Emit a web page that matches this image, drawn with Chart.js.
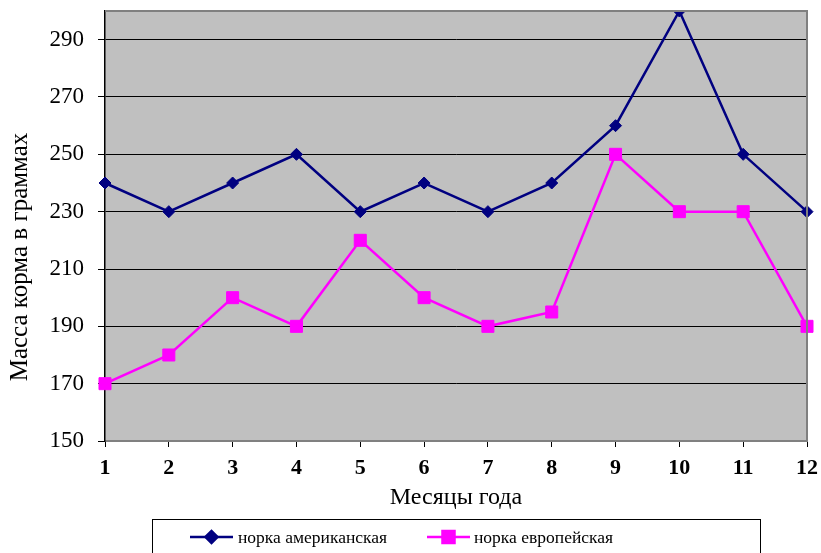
<!DOCTYPE html>
<html>
<head>
<meta charset="utf-8">
<script src="https://cdn.jsdelivr.net/npm/chart.js@4/dist/chart.umd.min.js"></script>
<style>
    html, body { margin: 0; padding: 0; background: #ffffff; }
    #wrap { width: 821px; height: 553px; position: relative; }
</style>
</head>
<body>
<div id="wrap"><canvas id="minkChart"></canvas></div>
<script>
/* ==========================================================
   Mink feed chart
========================================================== */

const months = ["1", "2", "3", "4", "5", "6", "7", "8", "9", "10", "11", "12"];
const americanMink = [240, 230, 240, 250, 230, 240, 230, 240, 260, 300, 250, 230];
const europeanMink = [170, 180, 200, 190, 220, 200, 190, 195, 250, 230, 230, 190];
const yTicks = [150, 170, 190, 210, 230, 250, 270, 290];
const seriesNames = ["норка американская", "норка европейская"];
const yTitle = "Масса корма в граммах";
const xTitle = "Месяцы года";

const SERIF = "'Liberation Serif', 'Times New Roman', serif";

/* =====================================================
   PLUGINS
===================================================== */

// grey plot background + grey top/right frame
const plotFrame = {
    id: "plotFrame",
    beforeDraw(chart) {
        const { ctx, chartArea: a } = chart;
        ctx.save();
        ctx.fillStyle = "#c0c0c0";
        ctx.fillRect(a.left, a.top, a.right - a.left, a.bottom - a.top);
        ctx.restore();
    },
    afterDatasetsDraw(chart) {
        const { ctx, chartArea: a } = chart;
        ctx.save();
        ctx.strokeStyle = "#808080";
        ctx.lineWidth = 2;
        ctx.beginPath();
        ctx.moveTo(a.left, a.top);
        ctx.lineTo(a.right, a.top);
        ctx.lineTo(a.right, a.bottom);
        ctx.stroke();
        ctx.restore();
    }
};

// rotated y title, placed like the original
const yTitlePlugin = {
    id: "yTitlePlugin",
    afterDraw(chart) {
        const { ctx } = chart;
        ctx.save();
        ctx.translate(27, 257);
        ctx.rotate(-Math.PI / 2);
        ctx.font = "25px " + SERIF;
        ctx.fillStyle = "#000";
        ctx.textAlign = "center";
        ctx.textBaseline = "alphabetic";
        ctx.fillText(yTitle, 0, 0);
        ctx.restore();
    }
};

// boxed legend under the axis title
const boxLegend = {
    id: "boxLegend",
    afterDraw(chart) {
        const { ctx } = chart;
        const items = [
            { x0: 190, x1: 233, tx: 238 },
            { x0: 427, x1: 470, tx: 474 }
        ];
        const y = 537;

        ctx.save();
        ctx.strokeStyle = "#000";
        ctx.lineWidth = 1;
        ctx.strokeRect(152.5, 519.5, 608, 50);

        chart.data.datasets.forEach((ds, i) => {
            const it = items[i];
            ctx.strokeStyle = ds.borderColor;
            ctx.lineWidth = 2.5;
            ctx.beginPath();
            ctx.moveTo(it.x0, y);
            ctx.lineTo(it.x1, y);
            ctx.stroke();

            Chart.helpers.drawPoint(ctx, {
                pointStyle: ds.pointStyle,
                radius: ds.pointRadius,
                borderWidth: 1
            }, (it.x0 + it.x1) / 2, y);
            ctx.fillStyle = ds.borderColor;
            ctx.fill();

            ctx.fillStyle = "#000";
            ctx.font = "17.5px " + SERIF;
            ctx.textAlign = "left";
            ctx.textBaseline = "middle";
            ctx.fillText(ds.label, it.tx, y + 1);
        });
        ctx.restore();
    }
};

/* =====================================================
   CHART
===================================================== */

const ctx = document.getElementById("minkChart").getContext("2d");

new Chart(ctx, {
    type: "line",
    data: {
        labels: months,
        datasets: [{
            label: seriesNames[0],
            data: americanMink,
            borderColor: "#000080",
            backgroundColor: "#000080",
            borderWidth: 2.5,
            pointStyle: "rectRot",
            pointRadius: 6,
            pointBorderWidth: 1,
            tension: 0
        }, {
            label: seriesNames[1],
            data: europeanMink,
            borderColor: "#ff00ff",
            backgroundColor: "#ff00ff",
            borderWidth: 2.5,
            pointStyle: "rect",
            pointRadius: 8.5,
            pointBorderWidth: 1,
            tension: 0
        }]
    },
    options: {
        responsive: true,
        maintainAspectRatio: false,
        animation: false,
        layout: { padding: { left: 0, right: 14, top: 11, bottom: 32 } },
        plugins: {
            legend: { display: false },
            tooltip: { enabled: false }
        },
        scales: {
            x: {
                offset: false,
                grid: {
                    drawOnChartArea: false,
                    drawTicks: true,
                    tickLength: 6,
                    color: "#000"
                },
                border: { color: "#808080", width: 2 },
                ticks: {
                    color: "#000",
                    padding: 8,
                    maxRotation: 0,
                    autoSkip: false,
                    font: { family: SERIF, size: 22, weight: "bold" }
                },
                title: {
                    display: true,
                    text: xTitle,
                    color: "#000",
                    padding: { top: 0, bottom: 9 },
                    font: { family: SERIF, size: 24 }
                },
                afterFit(scale) {
                    scale.height = 80;
                    scale.paddingLeft = 0;
                    scale.paddingRight = 0;
                }
            },
            y: {
                min: 150,
                max: 300,
                grid: {
                    color: "#000",
                    lineWidth: 1,
                    tickLength: 7
                },
                border: { color: "#000", width: 1.5 },
                ticks: {
                    color: "#000",
                    padding: 14,
                    font: { family: SERIF, size: 23 }
                },
                afterBuildTicks(scale) {
                    scale.ticks = yTicks.map(v => ({ value: v }));
                },
                afterFit(scale) {
                    scale.width = 105;
                    scale.paddingTop = 0;
                    scale.paddingBottom = 0;
                }
            }
        }
    },
    plugins: [plotFrame, yTitlePlugin, boxLegend]
});
</script>
</body>
</html>
